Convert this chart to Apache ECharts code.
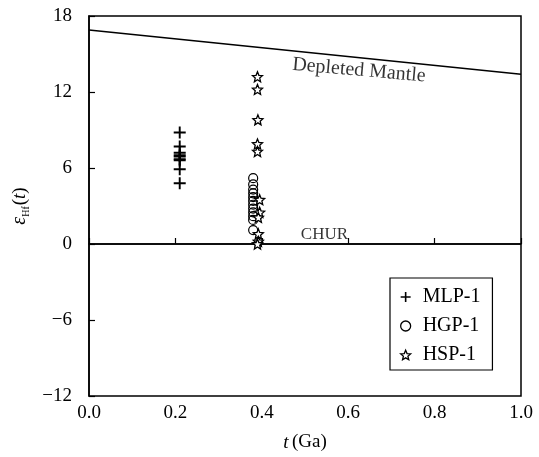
<!DOCTYPE html>
<html><head><meta charset="utf-8">
<script src="https://cdn.jsdelivr.net/npm/echarts@6/dist/echarts.min.js"></script>
<style>html,body{margin:0;padding:0;background:#fff}#c{width:539px;height:457px}</style>
</head><body><div id="c"></div>
<script>
// ---- data ----
const mlpX = [0.21, 0.21, 0.21, 0.21, 0.21, 0.21, 0.21, 0.21, 0.21];
const mlpY = [8.8, 7.7, 7.2, 7.0, 6.9, 6.7, 6.6, 5.9, 4.8];
const hgpX = [0.38, 0.38, 0.38, 0.38, 0.38, 0.38, 0.38, 0.38, 0.38, 0.38, 0.38, 0.38];
const hgpY = [5.2, 4.7, 4.3, 4.0, 3.7, 3.4, 3.1, 2.8, 2.5, 2.2, 1.9, 1.1];
const hspX = [0.39, 0.39, 0.391, 0.39, 0.39, 0.395, 0.395, 0.392, 0.392, 0.392, 0.39];
const hspY = [13.2, 12.2, 9.8, 7.9, 7.3, 3.5, 2.5, 2.1, 0.8, 0.2, 0.0];
const dmX = [0.0, 1.0];
const dmY = [16.9, 13.4];
const churX = [0.0, 1.0];
const churY = [0, 0];
const xTicks = [0.0, 0.2, 0.4, 0.6, 0.8, 1.0];
const yTicks = [-12, -6, 0, 6, 12, 18];
const seriesNames = ['MLP-1', 'HGP-1', 'HSP-1'];
const labelDM = {text: 'Depleted Mantle', x: 0.625, y: 13.7};
const labelCHUR = {text: 'CHUR', x: 0.545, y: 0.75};

const zip = (a, b) => a.map((v, i) => [v, b[i]]);
const FONT = '"Liberation Serif", "Times New Roman", serif';
const plusPath = 'path://M4.2,0h1.6v10h-1.6z M0,4.2h10v1.6h-10z';
const starPath = 'path://M10,0 L12.645,6.359 L19.511,6.91 L14.28,11.39 L15.878,18.09 L10,14.5 L4.122,18.09 L5.72,11.39 L0.489,6.91 L7.355,6.359 Z';

const chart = echarts.init(document.getElementById('c'), null, {renderer: 'canvas'});
chart.setOption({
  animation: false,
  backgroundColor: '#fff',
  grid: {left: 89, right: 18, top: 16, bottom: 61, show: true, borderColor: '#000', borderWidth: 1.5},
  xAxis: {
    type: 'value', min: xTicks[0], max: xTicks[xTicks.length - 1], interval: 0.2,
    axisLine: {lineStyle: {color: '#000', width: 1.5}},
    axisTick: {inside: true, length: 6, lineStyle: {color: '#000', width: 1.2}},
    axisLabel: {color: '#000', fontFamily: FONT, fontSize: 19, margin: 8, formatter: v => v.toFixed(1)},
    splitLine: {show: false},
    name: '{i|t} {n|(Ga)}', nameLocation: 'middle', nameGap: 37,
    nameTextStyle: {rich: {i: {fontFamily: FONT, fontSize: 19, fontStyle: 'italic', color: '#000'}, n: {fontFamily: FONT, fontSize: 19, color: '#000'}}}
  },
  yAxis: {
    type: 'value', min: yTicks[0], max: yTicks[yTicks.length - 1], interval: 6,
    axisLine: {lineStyle: {color: '#000', width: 1.5}},
    axisTick: {inside: true, length: 6, lineStyle: {color: '#000', width: 1.2}},
    axisLabel: {color: '#000', fontFamily: FONT, fontSize: 19, margin: 17, formatter: v => (v < 0 ? '\u2212' + Math.abs(v) : String(v))},
    splitLine: {show: false},
    name: '{e|\u03b5}{s|Hf}{n|(}{i|t}{n|)}', nameLocation: 'middle', nameGap: 58, nameRotate: 90,
    nameTextStyle: {rich: {
      e: {fontFamily: FONT, fontSize: 20, fontStyle: 'italic', color: '#000', lineHeight: 22, verticalAlign: 'middle'},
      s: {fontFamily: FONT, fontSize: 10, color: '#000', lineHeight: 22, verticalAlign: 'bottom', padding: [6, 1, 0, 0]},
      i: {fontFamily: FONT, fontSize: 19, fontStyle: 'italic', color: '#000', lineHeight: 22, verticalAlign: 'middle'},
      n: {fontFamily: FONT, fontSize: 19, color: '#000', lineHeight: 22, verticalAlign: 'middle'}
    }}
  },
  legend: {
    orient: 'vertical', left: 390, top: 278, padding: [9, 12, 5, 10],
    borderColor: '#000', borderWidth: 1.2, backgroundColor: '#fff',
    itemWidth: 10, itemHeight: 10, itemGap: 9,
    textStyle: {fontFamily: FONT, fontSize: 20, color: '#000', padding: [0, 0, 0, 7]},
    data: [
      {name: seriesNames[0], icon: plusPath, itemStyle: {color: '#000', borderWidth: 0}},
      {name: seriesNames[1], icon: 'circle', itemStyle: {color: '#fff', borderColor: '#000', borderWidth: 1.3}},
      {name: seriesNames[2], icon: starPath, itemStyle: {color: '#fff', borderColor: '#000', borderWidth: 1.3}}
    ]
  },
  series: [
    {type: 'line', data: zip(dmX, dmY), symbol: 'none', lineStyle: {color: '#000', width: 1.5}, silent: true, z: 1},
    {type: 'line', data: zip(churX, churY), symbol: 'none', lineStyle: {color: '#000', width: 1.5}, silent: true, z: 1},
    {name: seriesNames[0], type: 'scatter', data: zip(mlpX, mlpY), symbol: plusPath, symbolSize: 12,
      itemStyle: {color: '#000', borderWidth: 0, opacity: 1}, z: 3},
    {name: seriesNames[1], type: 'scatter', data: zip(hgpX, hgpY), symbol: 'circle', symbolSize: 9,
      itemStyle: {color: 'rgba(255,255,255,0)', borderColor: '#000', borderWidth: 1.2, opacity: 1}, z: 3},
    {name: seriesNames[2], type: 'scatter', data: zip(hspX, hspY), symbol: starPath, symbolSize: 10,
      itemStyle: {color: '#fff', borderColor: '#000', borderWidth: 1.3, opacity: 1}, z: 4},
    {type: 'scatter', silent: true, symbolSize: 0, z: 5,
      data: [{value: [labelDM.x, labelDM.y], label: {show: true, formatter: labelDM.text, rotate: -5, fontFamily: FONT, fontSize: 20, color: '#000', position: 'inside'}},
             {value: [labelCHUR.x, labelCHUR.y], label: {show: true, formatter: labelCHUR.text, fontFamily: FONT, fontSize: 17, color: '#000', position: 'inside'}}]}
  ]
});
</script></body></html>
